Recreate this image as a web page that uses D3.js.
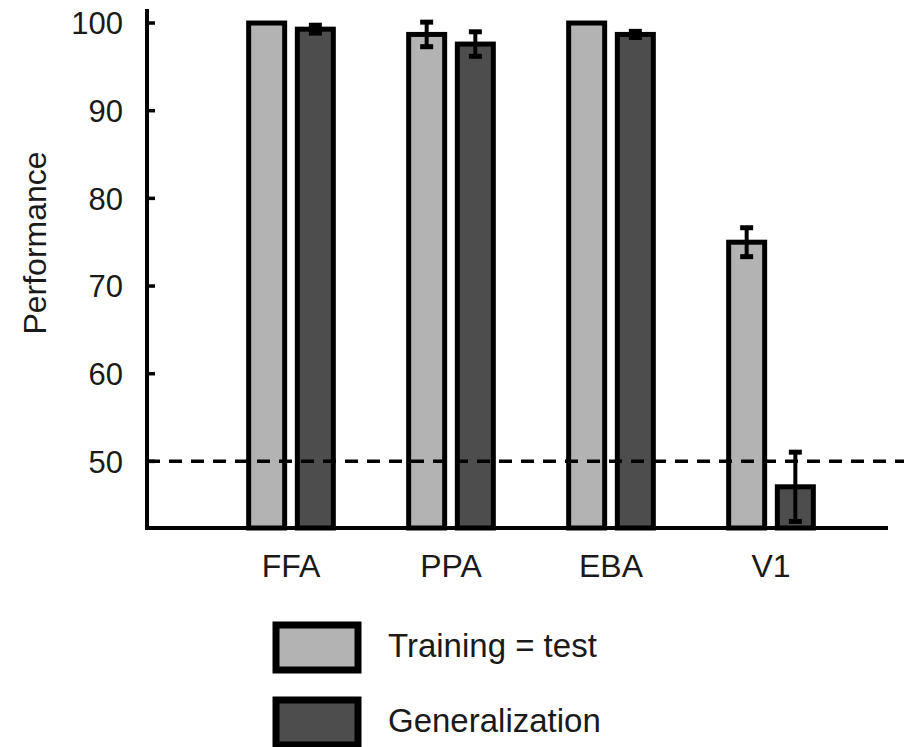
<!DOCTYPE html>
<html>
<head>
<meta charset="utf-8">
<script src="https://cdn.jsdelivr.net/npm/d3@7/dist/d3.min.js"></script>
<style>
  html, body { margin: 0; padding: 0; background: #fff; }
  svg { display: block; font-family: "Liberation Sans", Arial, Helvetica, sans-serif; }
</style>
</head>
<body>
<svg id="chart" width="904" height="747"></svg>
<script>
// Decoding performance per region of interest
const categories = ["FFA", "PPA", "EBA", "V1"];
const seriesNames = ["Training = test", "Generalization"];
const trainingValues = [100, 98.7, 100, 75.0];
const trainingErrors = [0, 1.4, 0, 1.65];
const generalizationValues = [99.3, 97.6, 98.7, 47.1];
const generalizationErrors = [0.45, 1.4, 0.35, 3.95];
const yTicks = [50, 60, 70, 80, 90, 100];
const chanceLevel = 50;
const yLabel = "Performance";

const colors = ["#b3b3b3", "#4d4d4d"];

const svg = d3.select("#chart");

const axisLeft = 147, axisRight = 888;
const y = d3.scaleLinear().domain([42.4, 101.6]).range([528, 9]);
const x = d3.scaleBand().domain(categories).range([211, 851]);
const sub = d3.scaleBand().domain(seriesNames).range([-46, 46]).paddingInner(0.11);

const series = [
  { name: seriesNames[0], values: trainingValues, errors: trainingErrors },
  { name: seriesNames[1], values: generalizationValues, errors: generalizationErrors }
];

const barStroke = 5;
const barW = 36;

// bars
series.forEach((s, si) => {
  const g = svg.append("g");
  categories.forEach((c, i) => {
    const cx = x(c) + x.bandwidth() / 2 + sub(s.name) + sub.bandwidth() / 2;
    const top = y(s.values[i]);
    g.append("rect")
      .attr("x", cx - barW / 2)
      .attr("y", top)
      .attr("width", barW)
      .attr("height", y.range()[0] - top)
      .attr("fill", colors[si])
      .attr("stroke", "#000")
      .attr("stroke-width", barStroke);
  });
});

// chance level
svg.append("line")
  .attr("x1", axisLeft).attr("x2", 904)
  .attr("y1", y(chanceLevel)).attr("y2", y(chanceLevel))
  .attr("stroke", "#000")
  .attr("stroke-width", 3.5)
  .attr("stroke-dasharray", "13,9");

// error bars
series.forEach((s) => {
  const g = svg.append("g");
  categories.forEach((c, i) => {
    const e = s.errors[i];
    if (!e) return;
    const cx = x(c) + x.bandwidth() / 2 + sub(s.name) + sub.bandwidth() / 2;
    const y1 = y(s.values[i] + e), y2 = y(s.values[i] - e);
    g.append("line").attr("x1", cx).attr("x2", cx).attr("y1", y1).attr("y2", y2)
      .attr("stroke", "#000").attr("stroke-width", 4);
    [y1, y2].forEach(yy => {
      g.append("line").attr("x1", cx - 6.5).attr("x2", cx + 6.5).attr("y1", yy).attr("y2", yy)
        .attr("stroke", "#000").attr("stroke-width", 5);
    });
  });
});

// y axis
const yAxis = svg.append("g").attr("transform", `translate(${axisLeft},0)`);
yAxis.append("line")
  .attr("x1", 0).attr("x2", 0)
  .attr("y1", y.range()[1]).attr("y2", y.range()[0] + 2)
  .attr("stroke", "#000").attr("stroke-width", 4);
yAxis.selectAll(".tick")
  .data(yTicks)
  .enter().append("g")
  .attr("class", "tick")
  .attr("transform", d => `translate(0,${y(d)})`)
  .each(function(d) {
    const t = d3.select(this);
    t.append("line").attr("x1", 0).attr("x2", 8).attr("stroke", "#000").attr("stroke-width", 3.5);
    t.append("text")
      .attr("x", -24).attr("dy", "0.36em")
      .attr("text-anchor", "end")
      .attr("font-size", 31)
      .attr("fill", "#1a1a1a")
      .text(d);
  });

// x axis
svg.append("line")
  .attr("x1", axisLeft - 2).attr("x2", axisRight)
  .attr("y1", y.range()[0]).attr("y2", y.range()[0])
  .attr("stroke", "#000").attr("stroke-width", 4);
svg.append("g").selectAll("text")
  .data(categories)
  .enter().append("text")
  .attr("x", d => x(d) + x.bandwidth() / 2)
  .attr("y", 577)
  .attr("text-anchor", "middle")
  .attr("font-size", 32)
  .attr("fill", "#1a1a1a")
  .text(d => d);

// y label
svg.append("text")
  .attr("transform", "translate(46,243) rotate(-90)")
  .attr("text-anchor", "middle")
  .attr("font-size", 32)
  .attr("fill", "#1a1a1a")
  .text(yLabel);

// legend
const legend = svg.append("g");
seriesNames.forEach((name, i) => {
  const ly = 625 + i * 75;
  legend.append("rect")
    .attr("x", 276).attr("y", ly)
    .attr("width", 82).attr("height", 45)
    .attr("fill", colors[i])
    .attr("stroke", "#000")
    .attr("stroke-width", 7);
  legend.append("text")
    .attr("x", 388).attr("y", ly + 32)
    .attr("font-size", 33)
    .attr("fill", "#1a1a1a")
    .text(name);
});
</script>
</body>
</html>
